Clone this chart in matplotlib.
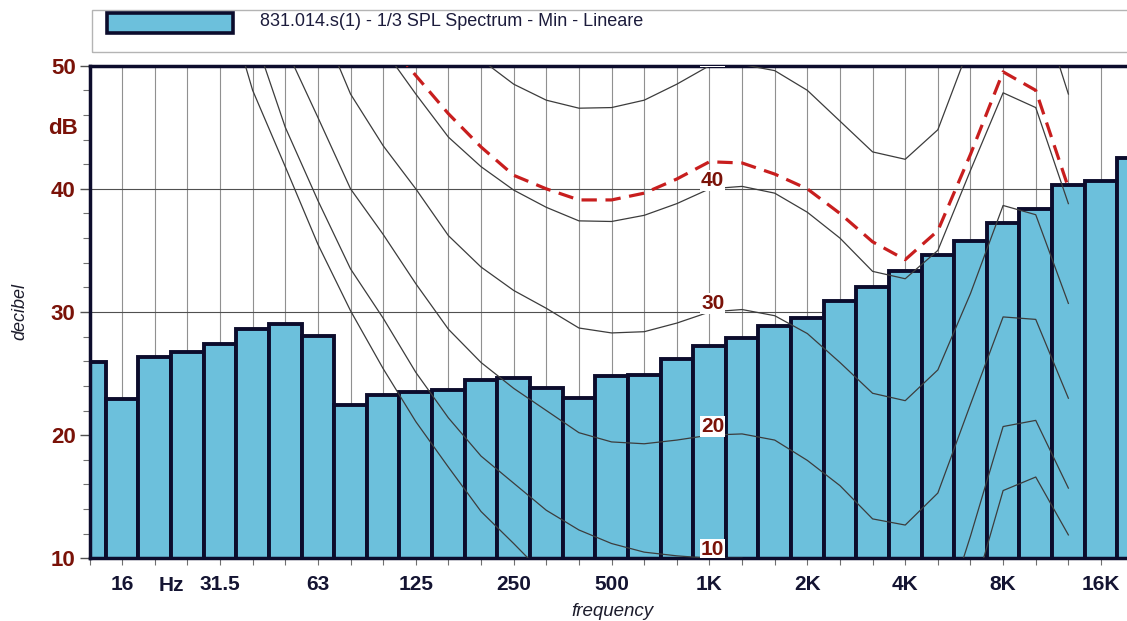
import numpy as np
import matplotlib.pyplot as plt
from matplotlib.patches import Rectangle

plt.rcParams['font.family'] = ['Liberation Sans', 'DejaVu Sans']

nan = np.nan

# 1/3 octave bands 12.5 Hz .. 20 kHz
bands = ['12.5', '16', '20', '25', '31.5', '40', '50', '63', '80', '100', '125', '160',
         '200', '250', '315', '400', '500', '630', '800', '1K', '1.25K', '1.6K', '2K',
         '2.5K', '3.15K', '4K', '5K', '6.3K', '8K', '10K', '12.5K', '16K', '20K']
tick_labels = ['', '16', '', '', '31.5', '', '', '63', '', '', '125', '', '', '250', '',
               '', '500', '', '', '1K', '', '', '2K', '', '', '4K', '', '', '8K', '', '',
               '16K', '']

# measured minimum SPL per band (dB)
spl_min = [25.9, 22.9, 26.35, 26.75, 27.4, 28.6, 29.0, 28.05, 22.45, 23.3, 23.5, 23.7,
           24.45, 24.65, 23.85, 23.05, 24.8, 24.85, 26.15, 27.25, 27.85, 28.9, 29.55,
           30.9, 32.0, 33.3, 34.6, 35.8, 37.2, 38.4, 40.35, 40.6, 42.5]

# equal loudness contours, 12.5 Hz .. 12.5 kHz
maf = [nan, nan, nan, nan, 57.0, 48.0, 41.8, 35.5, 30.1, 25.4, 21.1, 17.4, 13.8, 11.2,
       8.5, 6.2, 4.4, 3.0, 2.2, 2.4, 3.5, 1.7, -1.3, -4.2, -6.0, -5.4, -1.5, 6.3, 15.5,
       16.6, 11.9]
phon10 = [nan, nan, nan, nan, nan, 52.8, 45.0, 39.05, 33.5, 29.5, 25.1, 21.4, 18.3, 16.1,
          13.9, 12.3, 11.2, 10.5, 10.2, 10.0, 10.0, 9.0, 6.5, 3.5, 1.5, 1.0, 3.5, 11.8,
          20.7, 21.2, 15.7]
phon20 = [nan, nan, nan, nan, nan, nan, 51.5, 45.8, 40.0, 36.3, 32.3, 28.6, 25.9, 23.8,
          22.0, 20.2, 19.45, 19.3, 19.6, 20.0, 20.1, 19.6, 17.95, 15.9, 13.2, 12.7, 15.3,
          22.5, 29.6, 29.4, 23.0]
phon30 = [nan, nan, nan, nan, nan, nan, nan, 54.0, 47.7, 43.5, 40.0, 36.2, 33.65, 31.75,
          30.3, 28.7, 28.3, 28.4, 29.1, 30.0, 30.2, 29.7, 28.25, 25.9, 23.4, 22.8, 25.3,
          31.5, 38.65, 37.9, 30.7]
phon40 = [nan, nan, nan, nan, nan, nan, nan, nan, nan, 51.4, 47.7, 44.2, 41.8, 39.9,
          38.5, 37.4, 37.35, 37.85, 38.8, 40.0, 40.2, 39.65, 38.1, 36.0, 33.3, 32.7, 35.0,
          41.5, 47.8, 46.6, 38.8]
phon50 = [nan, nan, nan, nan, nan, nan, nan, nan, nan, nan, nan, 53.5, 50.5, 48.5,
          47.2, 46.55, 46.6, 47.2, 48.5, 50.0, 50.1, 49.6, 48.0, 45.5, 43.0, 42.4, 44.8,
          51.8, 57.5, 56.0, 47.7]
contours = [maf, phon10, phon20, phon30, phon40, phon50]
contour_levels = [10, 20, 30, 40, 50]

# red dashed limit curve
limit_curve = [nan, nan, nan, nan, nan, nan, nan, nan, nan, 52.4, 49.2, 46.1, 43.4, 41.1,
               40.0, 39.1, 39.1, 39.65, 40.8, 42.2, 42.1, 41.2, 40.0, 38.0, 35.7, 34.25,
               36.6, 42.8, 49.5, 48.0, 40.1]

W, H = 1127, 621
navy = '#0c0c2c'
bar_blue = '#6cc0dc'
dark_red = '#7a1208'

fig = plt.figure(figsize=(W / 100, H / 100), dpi=100)
ax = fig.add_axes([89.5 / W, 62.7 / H, 1063.7 / W, 492.6 / H])

x = np.arange(len(bands))
xc = x[:len(maf)]

ax.bar(x, spl_min, width=1.0, color=bar_blue, edgecolor=navy, linewidth=2.8, zorder=2)

for c in contours:
    ax.plot(xc, c, color='#3c3c3c', lw=0.9, zorder=3)
ax.plot(xc, limit_curve, color='#c81e1e', lw=2.3, ls=(0, (4.8, 2.7)), zorder=4)

for lev in contour_levels:
    ax.text(x[bands.index('1K')] + 0.1, lev + 0.7, str(lev), ha='center', va='center',
            fontsize=15, fontweight='bold', color=dark_red, zorder=5, clip_on=True,
            bbox=dict(fc='white', ec='none', pad=0.6))

ax.set_xlim(0, 32.6)
ax.set_ylim(10, 50)
ax.set_xticks(x)
ax.set_xticklabels(tick_labels, fontsize=15, fontweight='bold', color='#141432')
ax.set_yticks([10, 20, 30, 40, 50])
ax.set_yticks(np.arange(10, 51, 2), minor=True)
ax.set_yticklabels(['10', '20', '30', '40', '50'], fontsize=16, fontweight='bold',
                   color=dark_red)
ax.tick_params(axis='x', length=5, width=0.8, color='#707070', pad=7)
ax.tick_params(axis='y', which='major', length=7, width=1, color='#505050', pad=3)
ax.tick_params(axis='y', which='minor', length=5, width=0.8, color='#707070')

ax.set_axisbelow(True)
ax.grid(axis='x', color='#909090', lw=0.8)
ax.grid(axis='y', which='major', color='#505050', lw=0.8)

for s in ['top', 'left', 'bottom']:
    ax.spines[s].set_linewidth(2.5)
    ax.spines[s].set_color(navy)
ax.spines['right'].set_visible(False)

ax.text(2.5, -0.055, 'Hz', transform=ax.get_xaxis_transform(), ha='center', va='center',
        fontsize=15, fontweight='bold', color='#141432')
fig.text(63 / W, 1 - 128 / H, 'dB', ha='center', va='center', fontsize=16,
         fontweight='bold', color=dark_red)
fig.text(20 / W, 1 - 312 / H, 'decibel', rotation=90, style='italic', fontsize=13,
         ha='center', va='center', color='#1c1c2c')
fig.text(612 / W, 1 - 611 / H, 'frequency', style='italic', fontsize=13.5,
         ha='center', va='center', color='#1c1c2c')

# legend box
fig.patches.append(Rectangle((92 / W, 1 - 52 / H), 1100 / W, 42 / H,
                             transform=fig.transFigure, fill=False, ec='#b4b4b4', lw=1))
fig.patches.append(Rectangle((107 / W, 1 - 33 / H), 126 / W, 20 / H,
                             transform=fig.transFigure, fc=bar_blue, ec=navy, lw=2.6))
fig.text(260 / W, 1 - 21 / H, '831.014.s(1) - 1/3 SPL Spectrum - Min - Lineare',
         fontsize=13, va='center', color='#1c1c3c')

fig.savefig('out.png', dpi=100)
